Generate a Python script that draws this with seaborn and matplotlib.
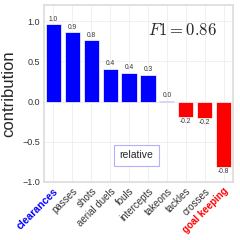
import numpy as np
import pandas as pd
import seaborn as sns
import matplotlib.pyplot as plt

features = ["clearances", "passes", "shots", "aerial duels", "fouls",
            "intercepts", "takeons", "tackles", "crosses", "goal keeping"]
contribution = [0.96, 0.86, 0.76, 0.41, 0.36, 0.33, 0.01, -0.19, -0.20, -0.81]
f1_score = 0.86

sns.set_theme(style="whitegrid")
plt.rcParams['font.family'] = ['Liberation Sans', 'DejaVu Sans']
plt.rcParams['mathtext.fontset'] = 'cm'

df = pd.DataFrame({"feature": features, "contribution": contribution})
colors = ["blue" if v > 0 else "red" for v in contribution]

fig = plt.figure(figsize=(2.4, 2.4), dpi=100)
ax = fig.add_axes([0.183, 0.242, 0.788, 0.737])
sns.barplot(data=df, x="feature", y="contribution", hue="feature",
            palette=colors, legend=False, width=0.8, saturation=1,
            edgecolor="white", linewidth=0.5, ax=ax)

for i, v in enumerate(contribution):
    off = 0.02 if v >= 0 else -0.02
    ax.text(i, v + off, f"{v:.1f}", ha="center",
            va="bottom" if v >= 0 else "top", fontsize=4.8, color="#333333")

ax.set_ylim(-1.0, 1.2)
ax.set_yticks([-1.0, -0.5, 0.0, 0.5, 1.0])
ax.set_yticklabels(["\u22121.0", "\u22120.5", "0.0", "0.5", "1.0"])
ax.tick_params(axis="y", labelsize=6.5, length=0, pad=3, labelcolor="#333333")
ax.tick_params(axis="x", labelsize=7, length=0, pad=3, labelcolor="#333333")
ax.set_xlabel("")
ax.set_ylabel("contribution", fontsize=12, labelpad=4)
ax.set_xticks(range(len(features)))
ax.set_xticklabels(features, rotation=45, ha="right", rotation_mode="anchor")
labs = ax.get_xticklabels()
labs[0].set_color("blue")
labs[0].set_fontweight("bold")
labs[0].set_fontsize(7.5)
labs[-1].set_color("red")
labs[-1].set_fontweight("bold")
labs[-1].set_fontsize(7)
for s in ax.spines.values():
    s.set_color("#dddddd")
ax.grid(True, color="#eeeeee", linewidth=0.6)

ax.text(0.735, 0.86, r"$F1 = %.2f$" % f1_score, transform=ax.transAxes,
        ha="center", va="center", fontsize=12)
ax.text(0.49, 0.15, "relative", transform=ax.transAxes, ha="center",
        va="center", fontsize=7.5,
        bbox=dict(boxstyle="square,pad=0.55", fc="white", ec="#b0b0ff", lw=0.8))

fig.savefig("out.png", dpi=100)
